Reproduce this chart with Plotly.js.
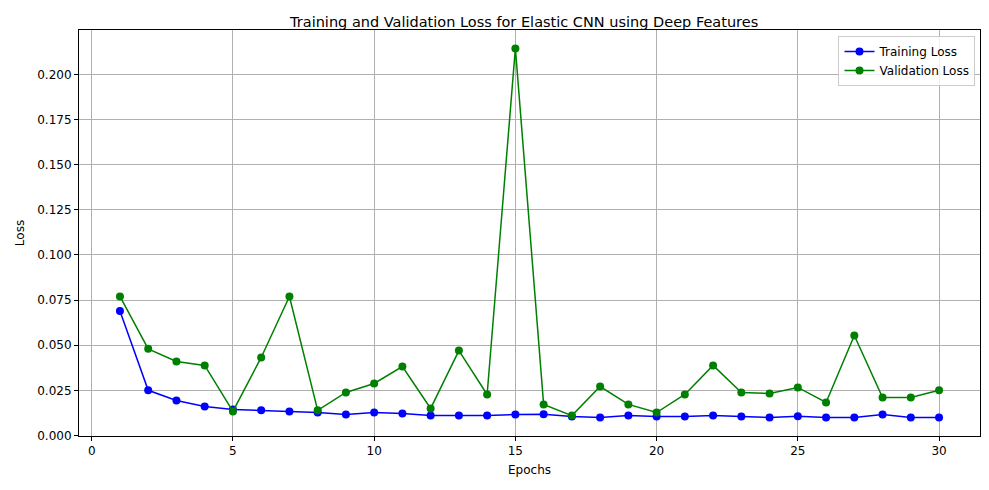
<!DOCTYPE html>
<html>
<head>
<meta charset="utf-8">
<script src="https://cdn.plot.ly/plotly-3.0.1.min.js"></script>
<style>body{margin:0}#chart{width:989px;height:490px}</style>
</head>
<body>
<div id="chart"></div>
<script>
// epochs et pertes
var epochs = [];
for (var i = 1; i <= 30; i++) epochs.push(i);
var trainLoss = [0.069, 0.025, 0.0194, 0.016, 0.0144, 0.0139, 0.0133, 0.0127, 0.0116, 0.0127,
                 0.0122, 0.011, 0.011, 0.011, 0.0116, 0.0118, 0.0105, 0.010, 0.011, 0.0105,
                 0.0105, 0.011, 0.0105, 0.010, 0.0107, 0.010, 0.010, 0.0116, 0.010, 0.010];
var valLoss = [0.077, 0.048, 0.041, 0.0388, 0.0133, 0.0432, 0.077, 0.0139, 0.0238, 0.0288,
               0.0382, 0.015, 0.047, 0.0227, 0.2144, 0.0172, 0.011, 0.0271, 0.0172, 0.0127,
               0.0227, 0.0388, 0.0238, 0.0233, 0.0266, 0.0183, 0.0554, 0.021, 0.021, 0.025];

var axe = {
    showline: true, linecolor: '#000', linewidth: 1, mirror: true,
    ticks: 'outside', ticklen: 4, tickcolor: '#000',
    gridcolor: '#b0b0b0', gridwidth: 1, zeroline: false,
    tickfont: { size: 12, color: '#000' }
};

var traceTrain = {
    x: epochs, y: trainLoss, mode: 'lines+markers', name: 'Training Loss',
    line: { color: 'blue', width: 1.5 }, marker: { color: 'blue', size: 8 }
};
var traceVal = {
    x: epochs, y: valLoss, mode: 'lines+markers', name: 'Validation Loss',
    line: { color: 'green', width: 1.5 }, marker: { color: 'green', size: 8 }
};

var layout = {
    font: { family: 'DejaVu Sans', color: '#000', size: 12 },
    title: { text: 'Training and Validation Loss for Elastic CNN using Deep Features', font: { size: 14.5 }, x: 0.53, y: 0.965 },
    xaxis: Object.assign({}, axe, { title: { text: 'Epochs', standoff: 8, font: { size: 12 } }, range: [-0.45, 31.45], tickvals: [0, 5, 10, 15, 20, 25, 30] }),
    yaxis: Object.assign({}, axe, { title: { text: 'Loss', standoff: 10, font: { size: 12 } }, range: [-0.0003, 0.2246], dtick: 0.025, tickformat: '.3f' }),
    legend: { x: 0.995, y: 0.985, xanchor: 'right', yanchor: 'top', bordercolor: '#ccc', borderwidth: 1, bgcolor: 'rgba(255,255,255,0.8)', font: { size: 12 }, tracegroupgap: 0 },
    showlegend: true,
    plot_bgcolor: '#fff', paper_bgcolor: '#fff',
    margin: { l: 79, r: 9, t: 30, b: 54 }
};

Plotly.newPlot('chart', [traceTrain, traceVal], layout, { displayModeBar: false });
</script>
</body>
</html>
